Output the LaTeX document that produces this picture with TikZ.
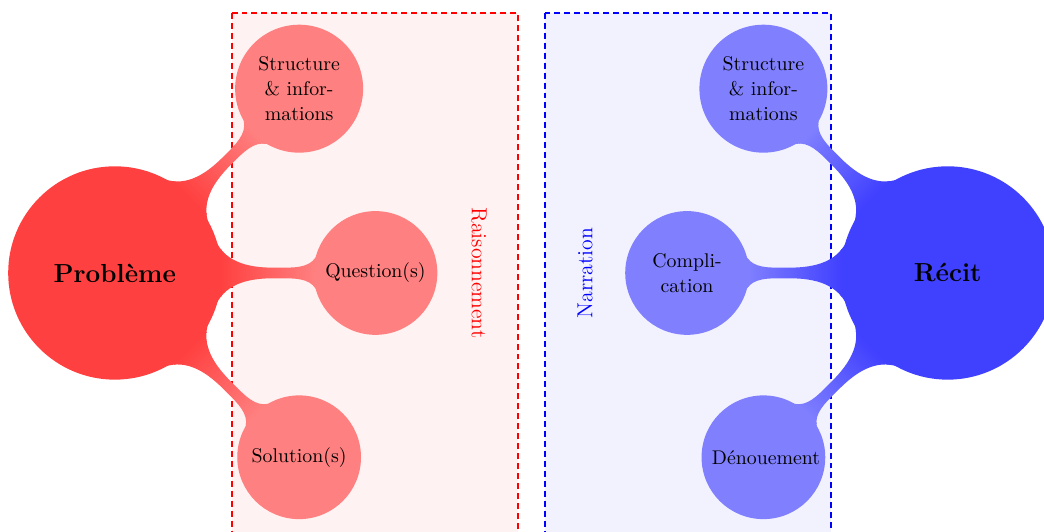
\documentclass[tikz,border=0pt]{standalone}
\usepackage{amsmath}
\usepackage{xcolor}
\usetikzlibrary{mindmap}

\tikzset{
  zone/.style={line width=1.1pt, dash pattern=on 3.3pt off 2.2pt},
  bigidea/.style={concept, minimum size=4.1cm, text width=3.5cm, font=\Large\bfseries, text=black},
  idea/.style={concept, minimum size=2.36cm, text width=2cm,
    font=\fontsize{10.95}{13.6}\selectfont, text=black},
}

\begin{document}
\begin{tikzpicture}
\useasboundingbox (-2.23,-5.01) rectangle (18.04,5.30);
% reasoning zone
\path[zone, draw=red, fill=red!5] (2.27,5.05) rectangle (7.83,-5.2);
\node[rotate=-90, text=red, font=\large] (raisonnement) at (7.07,0) {Raisonnement};
% narration zone
\path[zone, draw=blue, fill=blue!5] (8.35,5.05) rectangle (13.90,-5.2);
\node[rotate=90, text=blue, font=\large] (narration) at (9.13,0) {Narration};
% left map
\scope[mindmap, concept color=red!75,
  level 1/.append style={level distance=5.06cm, sibling angle=45}]
\node[bigidea] (probleme) at (0,0) {Problème}
  [clockwise from=45]
  child[concept color=red!50] {node[idea] (pbstructure) {Structure\\ \& infor-\\mations}}
  child[concept color=red!50] {node[idea] (pbquestion) {Question(s)}}
  child[concept color=red!50] {node[idea] (pbsolution) {Solution(s)}};
\endscope
% right map
\scope[mindmap, concept color=blue!75,
  level 1/.append style={level distance=5.06cm, sibling angle=45}]
\node[bigidea] (recit) at (16.17,0) {Récit}
  [counterclockwise from=135]
  child[concept color=blue!50] {node[idea] (rcstructure) {Structure\\ \& infor-\\mations}}
  child[concept color=blue!50] {node[idea] (rccomplication) {Compli-\\cation}}
  child[concept color=blue!50] {node[idea] (rcdenouement) {Dénouement}};
\endscope
\end{tikzpicture}
\end{document}
